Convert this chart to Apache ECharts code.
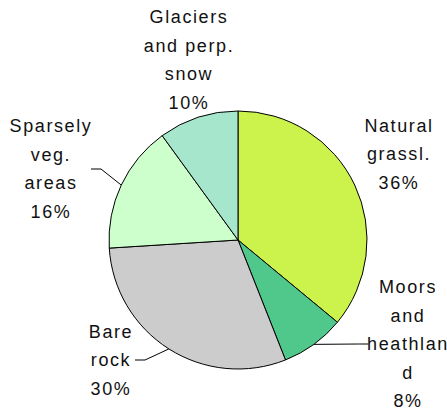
<!DOCTYPE html>
<html>
<head>
<meta charset="utf-8">
<script src="https://cdn.jsdelivr.net/npm/echarts@6/dist/echarts.min.js"></script>
<style>
  html, body { margin: 0; padding: 0; background: #fff; }
  #chart { width: 447px; height: 412px; }
  /* wide tracking on the slice captions */
  #chart text { letter-spacing: 1.6px; }
</style>
</head>
<body>
<div id="chart"></div>
<script>
// Land cover shares (%), clockwise from twelve o'clock
const categories = [
  'Natural\ngrassl.',
  'Moors\nand\nheathlan\nd',
  'Bare\nrock',
  'Sparsely\nveg.\nareas',
  'Glaciers\nand perp.\nsnow'
];
const shares = [36, 8, 30, 16, 10];
const sliceColors = ['#ccf24c', '#50c88c', '#cccccc', '#ccffcc', '#a6e6cc'];

// caption anchors (centre of each caption block) and whether a leader line is drawn
const captionAnchors = [[399, 154], [408, 344], [111, 360], [51, 169], [189, 60]];
const showLeader = [false, true, true, true, false];

const chart = echarts.init(document.getElementById('chart'), null, { renderer: 'svg' });

chart.setOption({
  animation: false,
  series: [{
    type: 'pie',
    center: [238, 240],
    radius: 129,
    startAngle: 90,
    clockwise: true,
    avoidLabelOverlap: false,
    itemStyle: { borderColor: '#000', borderWidth: 1 },
    label: {
      show: true,
      position: 'outside',
      color: '#111',
      fontFamily: 'Liberation Sans, Arial, sans-serif',
      fontSize: 18,
      lineHeight: 28.5,
      align: 'center',
      padding: [0, 5],
      formatter: p => p.name + '\n' + p.value + '%'
    },
    labelLine: { show: true, lineStyle: { color: '#000', width: 1 }, length: 10, length2: 10 },
    labelLayout: p => ({
      x: captionAnchors[p.dataIndex][0],
      y: captionAnchors[p.dataIndex][1],
      align: 'center',
      verticalAlign: 'middle'
    }),
    emphasis: { disabled: true },
    data: categories.map((name, i) => ({
      name,
      value: shares[i],
      itemStyle: { color: sliceColors[i] },
      labelLine: { show: showLeader[i] }
    }))
  }]
});
</script>
</body>
</html>
